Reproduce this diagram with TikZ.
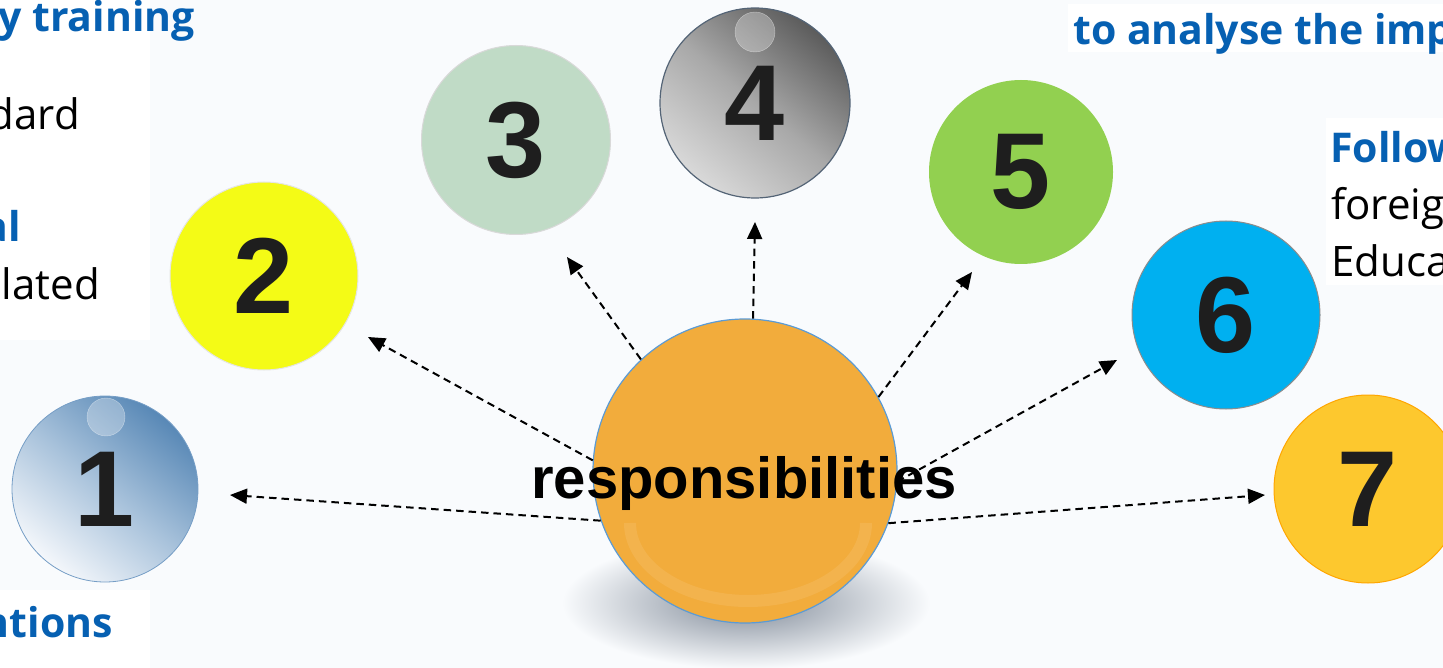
\documentclass[tikz,border=0pt]{standalone}
\usepackage{fontspec}
\setmainfont{Liberation Sans}
\newfontfamily\osans{Open Sans}
\usetikzlibrary{arrows.meta}
\definecolor{hblue}{RGB}{6,96,178}
\definecolor{bgc}{RGB}{249,251,253}
\definecolor{numc}{RGB}{30,30,30}
\definecolor{cyel}{RGB}{244,251,22}
\definecolor{cgrn}{RGB}{192,219,198}
\definecolor{clime}{RGB}{146,208,80}
\definecolor{ccyan}{RGB}{0,176,240}
\definecolor{cgold}{RGB}{253,200,46}
\definecolor{corange}{RGB}{242,172,60}
\definecolor{cedge}{RGB}{91,155,213}
\definecolor{b1top}{RGB}{88,136,182}
\definecolor{b1mid}{RGB}{168,194,219}
\definecolor{b1bot}{RGB}{244,247,251}
\definecolor{b1edge}{RGB}{118,158,198}
\definecolor{shadc}{RGB}{128,138,152}
\definecolor{b4edge}{RGB}{84,100,118}
\newcommand\numfont{\fontsize{108}{108}\selectfont\bfseries}
\begin{document}
\begin{tikzpicture}[x=1pt,y=-1pt,
  bubble/.style={circle, inner sep=0pt, font=\numfont, text=numc},
  arr/.style={draw=black, line width=2pt, dash pattern=on 7.5pt off 5pt, -{Triangle[length=17pt,width=15pt]}},
  head/.style={inner sep=0pt, font=\osans\fontsize{41}{41}\selectfont\bfseries, text=hblue},
  body/.style={inner sep=0pt, font=\osans\fontsize{42}{42}\selectfont, text=black},
  gloss/.style={fill=white, fill opacity=.3, draw=white, draw opacity=.45}]
\useasboundingbox (0,0) rectangle (1443,668);
\clip (0,0) rectangle (1443,668);
\fill[bgc] (0,0) rectangle (1443,668);
% white text boxes
\fill[white] (0,0) rectangle (150,340);
\fill[white] (0,590) rectangle (150,668);
\fill[white] (1068,4) rectangle (1443,52);
\fill[white] (1326,118) rectangle (1443,285);
% texts
\node[head, anchor=base east] (ta) at (195,32) {y training};
\node[body, anchor=base east] (tb) at (80,130) {dard};
\node[head, anchor=base east] (tc) at (21,242) {al};
\node[body, anchor=base east] (td) at (100,300) {lated};
\node[head, anchor=base east] (te) at (113,637) {ntions};
\node[head, anchor=base west] (tf) at (1073,45) {to analyse the imp};
\node[head, anchor=base west] (tg) at (1330,163) {Follow};
\node[body, anchor=base west] (th) at (1331,220) {foreig};
\node[body, anchor=base west] (ti) at (1331,277) {Educa};
% shadow
\shade[inner color=shadc, outer color=bgc] (746,603) ellipse[x radius=184, y radius=66];
% centre
\node[circle, minimum size=304pt, inner sep=0pt, fill=corange, draw=cedge, line width=1.2pt] (c) at (745,471) {};
\draw[line width=12pt, white, opacity=.09] (630,523) arc[start angle=180, end angle=0, x radius=118, y radius=78];
% bubbles
\node[bubble, minimum size=186pt, shade, top color=b1top, bottom color=b1bot, middle color=b1mid, shading angle=-40, draw=b1edge, line width=0.8pt] (b1) at (105,489) {};
\fill[gloss] (106,417) circle (19);
\node[bubble] at (b1) {1};
\node[bubble, minimum size=188pt, fill=cyel, draw=black!10, line width=1pt] (b2) at (264,276) {2};
\node[bubble, minimum size=189pt, fill=cgrn, draw=black!15, line width=1pt] (b3) at (516,140) {3};
\node[bubble, minimum size=190pt, shade, top color=black!64, bottom color=black!15, middle color=black!34, shading angle=-40, draw=b4edge, line width=1.2pt] (b4) at (755,103) {};
\fill[gloss] (755,32) circle (20);
\node[bubble] at (b4) {4};
\node[bubble, minimum size=184pt, fill=clime] (b5) at (1021,172) {5};
\node[bubble, minimum size=188pt, fill=ccyan, draw=black!45, line width=1pt] (b6) at (1226,315) {6};
\node[bubble, minimum size=188pt, fill=cgold, draw=orange!70!yellow, line width=1pt] (b7) at (1368,489) {7};
% arrow tips
\coordinate (t1) at (230,495);
\coordinate (t2) at (368,337);
\coordinate (t3) at (567,257);
\coordinate (t4) at (755,222);
\coordinate (t5) at (972,272);
\coordinate (t6) at (1117,360);
\coordinate (t7) at (1265,495);
\draw[arr] (c.199) -- (t1);
\draw[arr] (c.176) -- (t2);
\draw[arr] (c.133) -- (t3);
\draw[arr] (c.87) -- (t4);
\draw[arr] (c.29) -- (t5);
\draw[arr] (c.356) -- (t6);
\draw[arr] (c.340) -- (t7);
% central label
\node[inner sep=0pt, anchor=base, font=\fontsize{58}{58}\selectfont\bfseries, text=black] (lab) at (744,498) {responsibilities};
\end{tikzpicture}
\end{document}
